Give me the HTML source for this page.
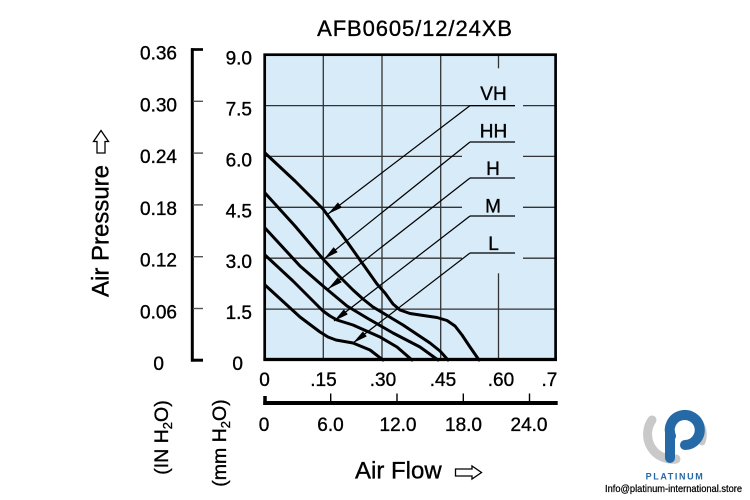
<!DOCTYPE html>
<html>
<head>
<meta charset="utf-8">
<style>
  html, body { margin:0; padding:0; background:#fff; }
  svg { display:block; }
  text { font-family: "Liberation Sans", Arial, sans-serif; fill:#000; }
  .t { stroke:#000; stroke-width:0.35; }
</style>
</head>
<body>
<svg width="750" height="500" viewBox="0 0 750 500" xmlns="http://www.w3.org/2000/svg">
  <defs>
    <marker id="ah" markerUnits="userSpaceOnUse" markerWidth="16" markerHeight="10" refX="15" refY="4" orient="auto">
      <path d="M0,0.8 L15,4 L0,7.2 Z" fill="#000"/>
    </marker>
  </defs>
  <rect x="0" y="0" width="750" height="500" fill="#fff"/>

  <!-- Title -->
  <text class="t" x="415" y="36" font-size="22" text-anchor="middle" letter-spacing="0.9">AFB0605/12/24XB</text>

  <!-- Plot background -->
  <rect x="264.7" y="54.7" width="290.9" height="304.6" fill="#d8ebf8"/>

  <!-- Grid -->
  <g stroke="#333" stroke-width="1.3" fill="none">
    <line x1="323.3" y1="54.7" x2="323.3" y2="359"/>
    <line x1="382" y1="54.7" x2="382" y2="359"/>
    <line x1="440.7" y1="54.7" x2="440.7" y2="359"/>
    <line x1="498.5" y1="54.7" x2="498.5" y2="68.3"/>
    <line x1="498.5" y1="273.3" x2="498.5" y2="359"/>
    <line x1="264.7" y1="105.6" x2="515" y2="105.6"/>
    <line x1="523" y1="105.6" x2="555.6" y2="105.6"/>
    <line x1="264.7" y1="156.4" x2="462" y2="156.4"/>
    <line x1="523" y1="156.4" x2="555.6" y2="156.4"/>
    <line x1="264.7" y1="207.3" x2="462" y2="207.3"/>
    <line x1="523" y1="207.3" x2="555.6" y2="207.3"/>
    <line x1="264.7" y1="258.2" x2="462" y2="258.2"/>
    <line x1="523" y1="258.2" x2="555.6" y2="258.2"/>
    <line x1="264.7" y1="309.1" x2="555.6" y2="309.1"/>
  </g>

  <!-- Leader lines -->
  <g stroke="#000" stroke-width="1.2" fill="none">
    <line x1="470" y1="105.6" x2="515" y2="105.6"/>
    <line x1="470" y1="142" x2="515" y2="142"/>
    <line x1="470" y1="178" x2="515" y2="178"/>
    <line x1="470" y1="216" x2="515" y2="216"/>
    <line x1="470" y1="253" x2="515" y2="253"/>
    <line x1="470" y1="105.6" x2="328" y2="214" marker-end="url(#ah)"/>
    <line x1="470" y1="142" x2="324" y2="259" marker-end="url(#ah)"/>
    <line x1="470" y1="178" x2="328" y2="289" marker-end="url(#ah)"/>
    <line x1="470" y1="216" x2="334" y2="321" marker-end="url(#ah)"/>
    <line x1="470" y1="253" x2="353" y2="343" marker-end="url(#ah)"/>
  </g>

  <!-- Curve labels -->
  <g font-size="19" text-anchor="middle" class="t">
    <text class="t" x="493.5" y="100">VH</text>
    <text class="t" x="493.5" y="137.7">HH</text>
    <text class="t" x="493" y="175">H</text>
    <text class="t" x="493" y="212.7">M</text>
    <text class="t" x="493.5" y="250">L</text>
  </g>

  <!-- Curves -->
  <g stroke="#000" stroke-width="3" fill="none" stroke-linejoin="round" stroke-linecap="round">
    <polyline points="265,153 295,181 323,209 343,236 360,260 377,284 385,293 393,304 400,310 410,313.5 420,315 437,317.5 447,320.5 455,326 462,335 470,347 479,360"/>
    <polyline points="265,193 295,226 323,259 337,274 353,290 363,299 373,307 388,316 403,325 430,343 440,351 448,360"/>
    <polyline points="265,228 300,266 323,286 335,296 347,306 367,318 393,333 420,347 438,360"/>
    <polyline points="265,255 293,281 310,298 323,311 330,316 337,320 353,325 380,337 397,347 412,360"/>
    <polyline points="265,285 300,317 320,332 328,337 336,340 353,343 370,350 383,360"/>
  </g>

  <!-- Plot frame -->
  <rect x="264.7" y="54.7" width="290.9" height="304.6" fill="none" stroke="#000" stroke-width="2.7"/>
  <line x1="263.4" y1="359.5" x2="557" y2="359.5" stroke="#000" stroke-width="3.2"/>

  <!-- Inner y labels (mm H2O) -->
  <g font-size="19" text-anchor="end">
    <text class="t" x="252" y="64.7">9.0</text>
    <text class="t" x="252" y="115.6">7.5</text>
    <text class="t" x="252" y="166.4">6.0</text>
    <text class="t" x="252" y="217.3">4.5</text>
    <text class="t" x="252" y="268.2">3.0</text>
    <text class="t" x="252" y="318.8">1.5</text>
    <text class="t" x="243" y="370">0</text>
  </g>

  <!-- Outer axis (IN H2O) -->
  <line x1="192.3" y1="48.3" x2="192.3" y2="361.6" stroke="#000" stroke-width="3"/>
  <line x1="191" y1="49.5" x2="203" y2="49.5" stroke="#000" stroke-width="2.7"/>
  <line x1="191" y1="360.2" x2="203" y2="360.2" stroke="#000" stroke-width="3"/>
  <g stroke="#555" stroke-width="1.4">
    <line x1="193" y1="101.3" x2="203" y2="101.3"/>
    <line x1="193" y1="153.1" x2="203" y2="153.1"/>
    <line x1="193" y1="204.9" x2="203" y2="204.9"/>
    <line x1="193" y1="256.7" x2="203" y2="256.7"/>
    <line x1="193" y1="308.5" x2="203" y2="308.5"/>
  </g>
  <g font-size="19" text-anchor="end">
    <text class="t" x="177" y="59.3">0.36</text>
    <text class="t" x="177" y="111.3">0.30</text>
    <text class="t" x="177" y="163.1">0.24</text>
    <text class="t" x="177" y="214.9">0.18</text>
    <text class="t" x="177" y="266.7">0.12</text>
    <text class="t" x="177" y="318.5">0.06</text>
    <text class="t" x="164" y="370">0</text>
  </g>

  <!-- X labels (CFM) -->
  <g font-size="19" text-anchor="middle">
    <text class="t" x="264.5" y="386">0</text>
    <text class="t" x="323.5" y="386">.15</text>
    <text class="t" x="383" y="386">.30</text>
    <text class="t" x="443" y="386">.45</text>
    <text class="t" x="501" y="386">.60</text>
  </g>
  <text class="t" x="541.5" y="386" font-size="19">.7</text>

  <!-- Lower axis -->
  <line x1="263.3" y1="403" x2="557.7" y2="403" stroke="#000" stroke-width="4"/>
  <line x1="265" y1="396" x2="265" y2="405" stroke="#000" stroke-width="3.5"/>
  <g stroke="#000" stroke-width="1.4">
    <line x1="330.7" y1="393.5" x2="330.7" y2="403"/>
    <line x1="397" y1="393.5" x2="397" y2="403"/>
    <line x1="463.3" y1="393.5" x2="463.3" y2="403"/>
    <line x1="529.5" y1="393.5" x2="529.5" y2="403"/>
  </g>
  <g font-size="19" text-anchor="middle">
    <text class="t" x="264" y="431">0</text>
    <text class="t" x="330.5" y="431">6.0</text>
    <text class="t" x="398" y="431">12.0</text>
    <text class="t" x="463.5" y="431">18.0</text>
    <text class="t" x="529" y="431">24.0</text>
  </g>

  <!-- Air Flow -->
  <text class="t" x="355" y="478.3" font-size="24">Air Flow</text>
  <path d="M455.5,469 L472,469 L472,466 L481.5,472.5 L472,479 L472,476 L455.5,476 Z" fill="#fff" stroke="#000" stroke-width="1.3" stroke-linejoin="miter"/>

  <!-- Air Pressure -->
  <text class="t" transform="translate(108.3,231) rotate(-90)" font-size="24" text-anchor="middle">Air Pressure</text>
  <path d="M101,130.5 L108.5,141.5 L105,141.5 L105,153 L97,153 L97,141.5 L93.5,141.5 Z" fill="#fff" stroke="#000" stroke-width="1.3" stroke-linejoin="miter"/>

  <!-- Unit labels -->
  <text class="t" transform="translate(168,437.5) rotate(-90)" font-size="19.5" text-anchor="middle">(IN H<tspan font-size="13" dy="4">2</tspan><tspan dy="-4">O)</tspan></text>
  <text class="t" transform="translate(226,443) rotate(-90)" font-size="19.5" text-anchor="middle">(mm H<tspan font-size="13" dy="4">2</tspan><tspan dy="-4">O)</tspan></text>

  <!-- Logo -->
  <g fill="none" stroke-linecap="round">
    <path d="M652,420 A25,25 0 0 0 676,459" stroke="#c9c9c9" stroke-width="9"/>
    <path d="M693,416 A22,22 0 0 1 702,442" stroke="#c9c9c9" stroke-width="7"/>
    <path d="M671,436 A15,15 0 1 1 685,445" stroke="#2569a6" stroke-width="10"/>
    <line x1="670" y1="432" x2="670" y2="458" stroke="#2569a6" stroke-width="10"/>
  </g>
  <text x="675" y="479.5" font-size="9" font-weight="bold" text-anchor="middle" letter-spacing="1.6" style="fill:#2569a6">PLATINUM</text>
  <text x="605" y="492" font-size="10.5" textLength="137" lengthAdjust="spacingAndGlyphs" style="stroke:#000;stroke-width:0.25">Info@platinum-international.store</text>
</svg>
</body>
</html>
